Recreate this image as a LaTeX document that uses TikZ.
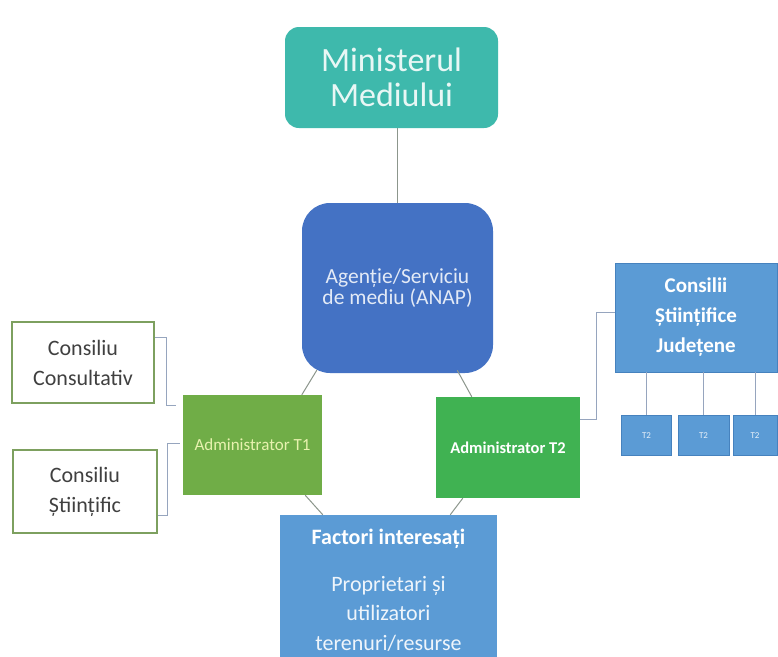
\documentclass[tikz,border=0pt]{standalone}
\usepackage{fontspec}
\setmainfont{Carlito}
\definecolor{tealbox}{RGB}{62,185,172}
\definecolor{anapblue}{RGB}{68,114,196}
\definecolor{tonegreen}{RGB}{112,173,71}
\definecolor{ttwogreen}{RGB}{64,178,82}
\definecolor{midblue}{RGB}{91,155,213}
\definecolor{midblueedge}{RGB}{70,130,190}
\definecolor{ccborder}{RGB}{125,160,95}
\definecolor{linkgray}{RGB}{140,150,140}
\definecolor{bracketgray}{RGB}{150,165,190}
\definecolor{darktext}{RGB}{64,64,64}
\begin{document}
\begin{tikzpicture}[x=1pt,y=-1pt,
  box/.style={inner sep=0pt, align=center},
  link/.style={draw=linkgray, line width=1pt},
  bracket/.style={draw=bracketgray, line width=1pt},
  councilbox/.style={box, fill=white, draw=ccborder, line width=1.5pt, text=darktext,
    font=\fontsize{22}{30}\selectfont},
  tsmall/.style={box, fill=midblue, draw=midblueedge, line width=0.8pt, minimum width=50pt,
    minimum height=40pt, text=white!85!midblue, font=\fontsize{9}{10}\selectfont}]
\useasboundingbox[fill=white] (0,0) rectangle (778,656);

% boxes
\node[box, fill=tealbox, rounded corners=14pt, minimum width=213pt, minimum height=101pt,
  text=white!88!tealbox, font=\fontsize{34}{35}\selectfont] (min) at (391.5,77.5)
  {Ministerul\\Mediului};
\node[box, fill=anapblue, rounded corners=28pt, minimum width=191pt, minimum height=170pt,
  text=white!85!anapblue, font=\fontsize{21.5}{21}\selectfont] (anap) at (397.5,288)
  {Agenție/Serviciu\\de mediu (ANAP)};
\node[box, fill=tonegreen, minimum width=139pt, minimum height=100pt,
  text=white!80!tonegreen!80!yellow, font=\fontsize{17}{19}\selectfont] (t1) at (252.5,445)
  {Administrator T1};
\node[box, fill=ttwogreen, minimum width=144pt, minimum height=101pt,
  text=white, font=\bfseries\fontsize{16.5}{18}\selectfont] (t2) at (508,447.5)
  {Administrator T2};
\node[councilbox, minimum width=142pt, minimum height=81pt] (cc) at (83,362.5)
  {Consiliu\\Consultativ};
\node[councilbox, minimum width=144pt, minimum height=83pt] (cs) at (85,491.5)
  {Consiliu\\Științific};
\node[box, fill=midblue, draw=midblueedge, line width=0.8pt, minimum width=162pt, minimum height=109pt,
  text=white, font=\bfseries\fontsize{21}{30}\selectfont] (csj) at (696,317.5)
  {Consilii\\Științifice\\Județene};
\node[tsmall] (b1) at (646.5,435.5) {T2};
\node[tsmall, minimum width=51pt] (b2) at (703.5,435.5) {T2};
\node[tsmall, minimum width=44pt] (b3) at (755,435.5) {T2};
\node[box, fill=midblue, minimum width=217pt, minimum height=150pt] (fact) at (388.5,590) {};
\node[box, text=white, font=\bfseries\fontsize{22}{24}\selectfont, anchor=center]
  (facttitle) at ([yshift=-24pt]fact.north) {Factori interesați};
\node[box, text=white!90!midblue, font=\fontsize{22}{29.5}\selectfont, anchor=north]
  (factbody) at ([yshift=-61pt]fact.north) {Proprietari și\\utilizatori\\terenuri/resurse};

% connectors
\draw[link] (min.south -| anap.north) -- (anap.north);
\draw[link] ([xshift=15pt,yshift=3pt]anap.south west) -- ([xshift=119pt]t1.north west);
\draw[link] ([xshift=-36pt,yshift=3pt]anap.south east) -- ([xshift=36pt]t2.north west);
\draw[link] ([xshift=-17pt]t1.south east) -- ([xshift=43pt]fact.north west);
\draw[link] ([xshift=27pt]t2.south west) -- ([xshift=-47pt]fact.north east);
\draw[bracket] ([yshift=-16pt]cc.north east) -- ++(12,0) |- ([xshift=-7pt,yshift=-11pt]t1.north west);
\draw[bracket] ([yshift=18pt]cs.south east) -- ++(10,0) |- ([xshift=-3pt,yshift=-49pt]t1.north west);
\draw[bracket] ([yshift=-23pt]t2.north east) -- ++(16,0) |- ([yshift=-50pt]csj.north west);
\foreach \b in {b1,b2,b3}
  \draw[bracket] (\b.north |- csj.south) -- (\b.north);
\end{tikzpicture}
\end{document}
